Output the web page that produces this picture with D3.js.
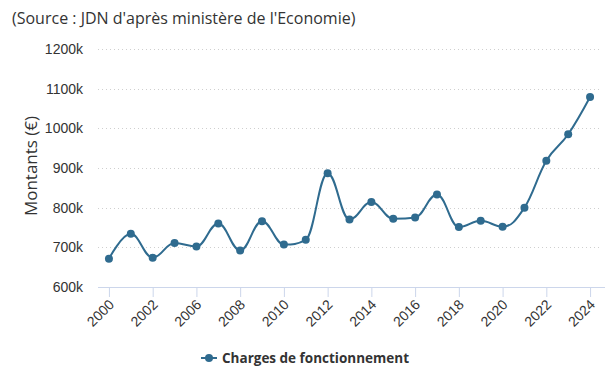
<!DOCTYPE html>
<html><head><meta charset="utf-8">
<script src="https://cdn.jsdelivr.net/npm/d3@7/dist/d3.min.js"></script>
<style>
body{margin:0;background:#fff;}
svg{display:block;font-family:"Open Sans","Noto Sans",sans-serif;}
</style></head>
<body><svg id="c" width="612" height="373"></svg>
<script>
const categories = ["2000","2001","2002","2005","2006","2007","2008","2009","2010","2011","2012","2013","2014","2015","2016","2017","2018","2019","2020","2021","2022","2023","2024"];
const values = [671,734,674,711,702,760,692,766,707,719,887,770,814,772,775,833,751,767,752,800,918,985,1079];
const yTicks = [600,700,800,900,1000,1100,1200];
const xTickLabels = ["2000","2002","2006","2008","2010","2012","2014","2016","2018","2020","2022","2024"];
const seriesName = "Charges de fonctionnement";
const title = "(Source : JDN d'après ministère de l'Economie)";
const yTitle = "Montants (€)";

(function(){
const color = "#2f6b8f";
const svg = d3.select("#c");
const pl = 98, pr = 601, pt = 49, pb = 287;

const x = d3.scalePoint().domain(categories).range([pl, pr]).padding(0.5);
const y = d3.scaleLinear().domain([600,1200]).range([pb, pt]);

svg.append("text").attr("x",12).attr("y",24).attr("font-size",16).attr("fill","#333").text(title);

// grid
svg.append("g").selectAll("line").data(yTicks.filter(d=>d>600)).join("line")
  .attr("x1",pl).attr("x2",pr).attr("y1",d=>Math.round(y(d))+0.5).attr("y2",d=>Math.round(y(d))+0.5)
  .attr("stroke","#cfcfcf").attr("stroke-dasharray","1,3");

// y axis labels
const ya = svg.append("g").attr("transform",`translate(${pl},0)`)
  .call(d3.axisLeft(y).tickValues(yTicks).tickFormat(d=>d+"k").tickSize(0).tickPadding(15));
ya.select(".domain").remove();
ya.selectAll("text").attr("font-size",14).attr("fill","#333").attr("font-family","inherit");

svg.append("text").attr("transform",`translate(37,166) rotate(-90)`)
  .attr("text-anchor","middle").attr("font-size",17).attr("fill","#333").text(yTitle);

// x axis
const xa = svg.append("g").attr("transform",`translate(0,${pb})`)
  .call(d3.axisBottom(x).tickValues(xTickLabels).tickSize(10).tickSizeOuter(0).tickPadding(6));
xa.select(".domain").attr("stroke","#ccd6eb").attr("d",`M${pl},0.5H${pr+4}`);
xa.selectAll(".tick line").attr("stroke","#ccd6eb");
xa.selectAll("text").attr("font-size",14).attr("fill","#333").attr("font-family","inherit")
  .attr("text-anchor","end").attr("x",0).attr("y",0).attr("dy","0.35em")
  .attr("transform","translate(2,15) rotate(-45)");

// Highcharts-like spline
function splinePath(pts){
  const sm = 1.5, den = sm + 1;
  const cps = pts.map((p,i)=>{
    const last = pts[i-1], next = pts[i+1];
    if(!last || !next) return null;
    let lx=(sm*p[0]+last[0])/den, ly=(sm*p[1]+last[1])/den;
    let rx=(sm*p[0]+next[0])/den, ry=(sm*p[1]+next[1])/den;
    let corr=0;
    if(rx!==lx) corr=((ry-ly)*(rx-p[0]))/(rx-lx)+p[1]-ry;
    ly+=corr; ry+=corr;
    if(ly>last[1]&&ly>p[1]){ly=Math.max(last[1],p[1]);ry=2*p[1]-ly;}
    else if(ly<last[1]&&ly<p[1]){ly=Math.min(last[1],p[1]);ry=2*p[1]-ly;}
    if(ry>next[1]&&ry>p[1]){ry=Math.max(next[1],p[1]);ly=2*p[1]-ry;}
    else if(ry<next[1]&&ry<p[1]){ry=Math.min(next[1],p[1]);ly=2*p[1]-ry;}
    return {lx,ly,rx,ry};
  });
  const path = d3.path();
  pts.forEach((p,i)=>{
    if(i===0){path.moveTo(p[0],p[1]);return;}
    const a = cps[i-1], b = cps[i], lp = pts[i-1];
    path.bezierCurveTo(a?a.rx:lp[0], a?a.ry:lp[1], b?b.lx:p[0], b?b.ly:p[1], p[0], p[1]);
  });
  return path.toString();
}
const pts = categories.map((c,i)=>[x(c), y(values[i])]);
svg.append("path").attr("d",splinePath(pts)).attr("fill","none").attr("stroke",color).attr("stroke-width",2);
svg.append("g").selectAll("circle").data(categories).join("circle")
  .attr("cx",d=>x(d)).attr("cy",(d,i)=>y(values[i])).attr("r",4).attr("fill",color);

// legend
const lg = svg.append("g").attr("transform","translate(201,358)");
lg.append("line").attr("x1",0).attr("x2",16).attr("y1",0).attr("y2",0).attr("stroke",color).attr("stroke-width",2);
lg.append("circle").attr("cx",8).attr("cy",0).attr("r",4).attr("fill",color);
lg.append("text").attr("x",21).attr("y",0).attr("dy","0.35em").attr("font-size",13.5).attr("font-weight","bold").attr("fill","#333").text(seriesName);
})();
</script></body></html>
